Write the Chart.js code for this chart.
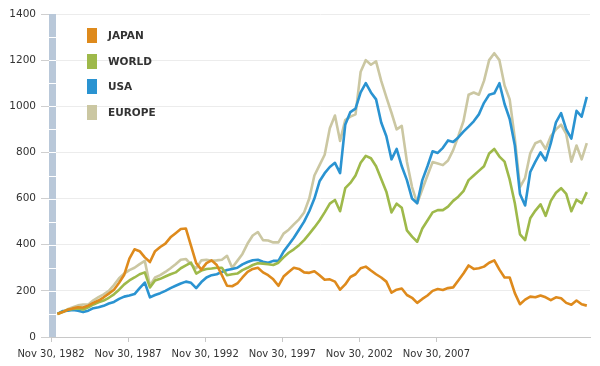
<!DOCTYPE html>
<html>
<head>
<meta charset="utf-8">
<script src="https://cdn.jsdelivr.net/npm/chart.js@4/dist/chart.umd.min.js"></script>
<style>
    body { margin: 0; background: #fff; }
    #wrap { position: relative; width: 600px; height: 366px; }
    #legend { position: absolute; left: 87px; top: 28px; font: bold 10.5px "DejaVu Sans", sans-serif; color: #333; }
    .item { position: absolute; left: 0; white-space: nowrap; }
    .box { position: absolute; left: 0; top: 0; width: 10px; height: 15px; }
    .txt { position: absolute; left: 21px; top: 1px; }
</style>
</head>
<body>
<div id="wrap">
    <canvas id="chart" width="600" height="366"></canvas>
    <div id="legend"></div>
</div>
<script>
// === DADOS (índice base 100, meses desde nov/1982) ===
const months = [5, 9, 13, 17, 21, 25, 29, 33, 37, 41, 45, 49, 53, 57, 61, 65, 69, 73, 77, 81,
    85, 89, 93, 97, 101, 105, 109, 113, 117, 121, 125, 129, 133, 137, 141, 145, 149, 153, 157, 161,
    165, 169, 173, 177, 181, 185, 189, 193, 197, 201, 205, 209, 213, 217, 221, 225, 229, 233, 237, 241,
    245, 249, 253, 257, 261, 265, 269, 273, 277, 281, 285, 289, 293, 297, 301, 305, 309, 313, 317, 321,
    325, 329, 333, 337, 341, 345, 349, 353, 357, 361, 365, 369, 373, 377, 381, 385, 389, 393, 397, 401,
    405, 409, 413, 417];

const japan = [100, 108, 118, 124, 129, 128, 136, 148, 158, 172, 188, 205, 235,
    270, 340, 380, 372, 345, 325,
    372, 390, 405, 432, 450, 468, 470,
    395, 320, 292, 320, 332, 312, 268, 222, 220, 232, 258, 282, 295,
    300, 280, 268, 250, 222, 262, 282, 300, 295, 280, 278, 285, 268,
    248, 250, 240, 205, 228, 260, 272, 298, 305, 288, 272, 258, 240,
    192, 205, 210, 182, 170, 148, 165, 180, 200, 208, 204, 212, 215,
    245, 275, 310, 295, 298, 305, 322, 332, 292, 258, 258, 190, 142,
    162, 175, 172, 180, 172, 160, 172, 168, 148, 140, 158, 142, 136];

const world = [100, 108, 118, 121, 124, 119, 129, 141, 150, 158, 170, 185, 205,
    228, 245, 258, 272, 280, 215,
    245, 252, 262, 272, 280, 298, 310,
    322, 275, 288, 295, 297, 300, 300, 268, 272, 275, 290, 300, 312,
    320, 318, 315, 312, 322, 345, 365, 380, 398, 420, 447, 475, 505,
    540, 578, 594, 545, 645, 668, 700, 755, 785, 775, 740, 685, 630,
    540, 578, 560, 462, 435, 413, 470, 505, 540, 550, 550, 565, 590,
    608, 632, 680, 700, 720, 740, 795, 815, 782, 760, 682, 580, 445,
    420, 515, 548, 575, 525, 590, 625, 645, 620, 545, 595, 580, 628];

const usa = [100, 112, 114, 117, 114, 108, 114, 125, 129, 135, 145, 152, 165,
    175, 180, 186, 212, 236, 172,
    182, 190, 200, 212, 222, 232, 240,
    235, 212, 238, 258, 268, 272, 282, 290, 295, 300, 315, 325, 333,
    335, 326, 322, 330, 330, 370, 400, 430, 465, 500, 545, 600, 675,
    710, 737, 755, 710, 920, 975, 990, 1060, 1100, 1060, 1030, 930, 870,
    770, 815, 740, 680, 600, 580, 680, 740, 805, 798, 820, 852, 845,
    865, 890, 912, 935, 965, 1015, 1050, 1056, 1100, 1010, 945, 830, 620,
    570, 715, 760, 800, 765, 840, 930, 970, 900, 860, 980, 955, 1041];

const europe = [100, 110, 120, 129, 137, 141, 141, 159, 173, 185, 200, 225, 255,
    275, 290, 300, 316, 330, 222,
    258, 268, 282, 298, 315, 335, 338,
    315, 298, 332, 335, 330, 332, 335, 352, 300, 330, 360, 405, 440,
    455, 420, 418, 410, 410, 448, 465, 488, 510, 540, 600, 700, 745,
    790, 905, 960, 850, 940, 955, 965, 1150, 1200, 1180, 1195, 1110, 1040,
    972, 900, 915, 760, 650, 580, 640, 700, 758, 752, 745, 765, 810,
    870, 935, 1050, 1060, 1050, 1110, 1200, 1230, 1200, 1090, 1030, 860, 650,
    690, 796, 840, 850, 815, 870, 900, 920, 880, 760, 830, 770, 840];

const tickMonths = [0, 60, 120, 180, 240, 300];
const tickLabels = ['Nov 30, 1982', 'Nov 30, 1987', 'Nov 30, 1992', 'Nov 30, 1997', 'Nov 30, 2002', 'Nov 30, 2007'];

// === UTILIDADES ===
function serie(values) {
    return values.map((v, i) => ({ x: months[i], y: v }));
}

function linha(label, values, color) {
    return {
        label: label,
        data: serie(values),
        borderColor: color,
        backgroundColor: color,
        borderWidth: 2.6,
        borderJoinStyle: 'round',
        pointRadius: 0,
        tension: 0,
        fill: false
    };
}

// faixa azul-acinzentada ao lado do eixo Y, cortada a cada 100
const faixaEixo = {
    id: 'faixaEixo',
    beforeDatasetsDraw(chart) {
        const { ctx, chartArea, scales } = chart;
        const left = chartArea.left - 2;
        ctx.save();
        ctx.fillStyle = '#b9c8d9';
        ctx.fillRect(left, chartArea.top, 7, chartArea.bottom - chartArea.top);
        ctx.fillStyle = '#ffffff';
        for (let v = 100; v < 1400; v += 100) {
            ctx.fillRect(left, Math.round(scales.y.getPixelForValue(v)), 7, 1);
        }
        ctx.restore();
    }
};

const fonteEixo = { family: '"DejaVu Sans", Verdana, sans-serif', size: 10.5 };

// === GRÁFICO ===
const ctx = document.getElementById('chart').getContext('2d');
const chart = new Chart(ctx, {
    type: 'line',
    data: {
        datasets: [
            linha('JAPAN', japan, '#de8a1c'),
            linha('WORLD', world, '#9eb94a'),
            linha('USA', usa, '#2a93d1'),
            linha('EUROPE', europe, '#cbc7a2')
        ]
    },
    options: {
        responsive: false,
        animation: false,
        devicePixelRatio: 1,
        layout: { padding: { top: 14, right: 10, left: 0, bottom: 0 } },
        plugins: {
            legend: { display: false },
            tooltip: { enabled: false }
        },
        scales: {
            x: {
                type: 'linear',
                min: 0,
                max: 419.5,
                afterBuildTicks: (scale) => { scale.ticks = tickMonths.map(v => ({ value: v })); },
                afterFit: (scale) => { scale.height = 29; },
                ticks: {
                    autoSkip: false,
                    maxRotation: 0,
                    padding: 6,
                    color: '#333',
                    font: { family: fonteEixo.family, size: 10 },
                    callback: (value) => tickLabels[tickMonths.indexOf(value)]
                },
                grid: { drawOnChartArea: false, tickLength: 5, tickColor: '#c8c8c8' },
                border: { color: '#c8c8c8' }
            },
            y: {
                min: 0,
                max: 1400,
                afterFit: (scale) => { scale.width = 51; },
                ticks: {
                    stepSize: 200,
                    padding: 5,
                    color: '#333',
                    font: fonteEixo,
                    callback: (value) => String(value)
                },
                grid: { color: '#ececec', tickLength: 10, tickColor: '#cfcfcf' },
                border: { display: false }
            }
        }
    },
    plugins: [faixaEixo]
});

// --- Legenda (HTML, dentro da área do gráfico) ---
const legenda = document.getElementById('legend');
chart.data.datasets.forEach((ds, i) => {
    const item = document.createElement('div');
    item.className = 'item';
    item.style.top = (i * 25.5) + 'px';
    item.innerHTML = `<div class="box" style="background:${ds.borderColor}"></div><div class="txt">${ds.label}</div>`;
    legenda.appendChild(item);
});
</script>
</body>
</html>
